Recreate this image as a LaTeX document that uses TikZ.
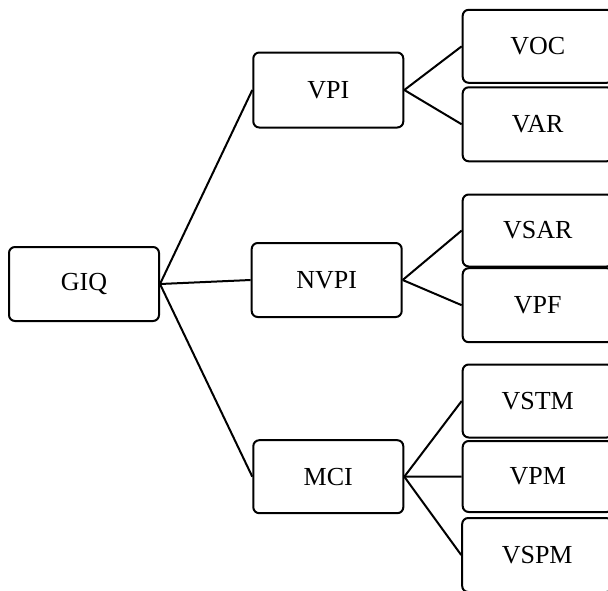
\documentclass[tikz,border=0pt]{standalone}
\usepackage{fontspec}
\setmainfont{Liberation Serif}
\begin{document}
\begin{tikzpicture}[x=1pt,y=-1pt,
  box/.style={draw, line width=2pt, rounded corners=6pt, inner sep=0pt, font=\fontsize{26}{30}\selectfont},
  rbox/.style={box, minimum width=150pt},
  link/.style={line width=2pt}]
\useasboundingbox (0,0) rectangle (608,590);
\clip (0,0) rectangle (608,590);
% level 0
\node[box, minimum width=150pt, minimum height=74pt] (giq) at (84,284) {GIQ};
% level 1
\node[box, minimum width=150pt, minimum height=75pt] (vpi) at (328.3,90) {VPI};
\node[box, minimum width=150pt, minimum height=74pt] (nvpi) at (326.7,280) {NVPI};
\node[box, minimum width=150pt, minimum height=73pt] (mci) at (328.3,476.7) {MCI};
% level 2
\node[rbox, minimum height=73pt] (voc) at (537.7,46.3) {VOC};
\node[rbox, minimum height=74pt] (var) at (537.7,124.3) {VAR};
\node[rbox, minimum height=72pt] (vsar) at (537.7,230.5) {VSAR};
\node[rbox, minimum height=74pt] (vpf) at (537.7,305.2) {VPF};
\node[rbox, minimum height=73pt] (vstm) at (537.7,401) {VSTM};
\node[rbox, minimum height=71pt] (vpm) at (537.7,476.5) {VPM};
\node[rbox, minimum height=74pt] (vspm) at (537.2,555) {VSPM};
% connectors
\draw[link] (giq.east) -- (vpi.west);
\draw[link] (giq.east) -- (nvpi.west);
\draw[link] (giq.east) -- (mci.west);
\draw[link] (vpi.east) -- (voc.west);
\draw[link] (vpi.east) -- (var.west);
\draw[link] (nvpi.east) -- (vsar.west);
\draw[link] (nvpi.east) -- (vpf.west);
\draw[link] (mci.east) -- (vstm.west);
\draw[link] (mci.east) -- (vpm.west);
\draw[link] (mci.east) -- (vspm.west);
\end{tikzpicture}
\end{document}
